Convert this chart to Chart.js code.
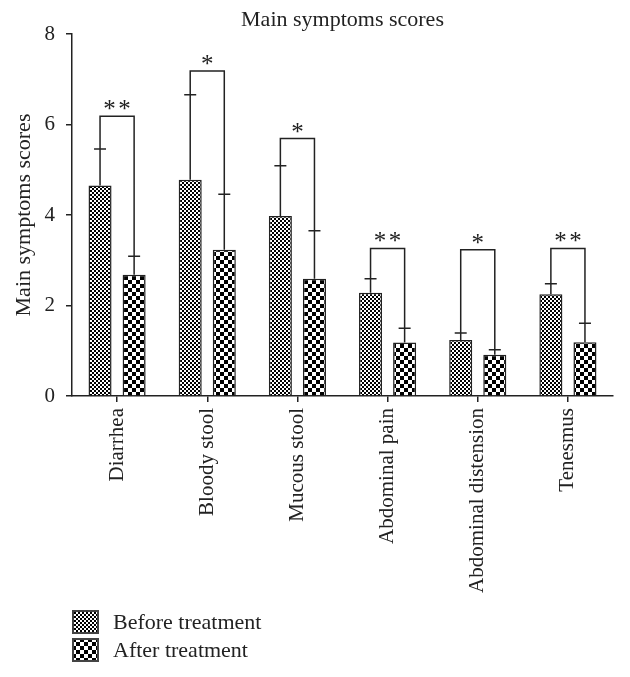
<!DOCTYPE html>
<html>
<head>
<meta charset="utf-8">
<script src="https://cdn.jsdelivr.net/npm/chart.js@4"></script>
<style>
  html, body { margin: 0; padding: 0; background: #fff; }
  #wrap { position: relative; width: 630px; height: 677px; }
  #legend { position: absolute; left: 72px; top: 608px; font: 22px "Liberation Serif", serif; color: #222; }
  .row { display: flex; align-items: center; height: 28px; }
  .row canvas { width: 27px; height: 24px; margin-right: 14px; }
</style>
</head>
<body>
<div id="wrap">
  <canvas id="chart" width="630" height="677"></canvas>
  <div id="legend"></div>
</div>
<script>
// Données (scores moyens, barre d'erreur supérieure, crochets de significativité)
const categories = ["Diarrhea", "Bloody stool", "Mucous stool", "Abdominal pain", "Abdominal distension", "Tenesmus"];
const beforeValues = [4.65, 4.78, 3.98, 2.28, 1.24, 2.25];
const beforeErrTop = [5.46, 6.66, 5.09, 2.59, 1.39, 2.48];
const afterValues = [2.68, 3.23, 2.59, 1.18, 0.91, 1.19];
const afterErrTop = [3.09, 4.46, 3.65, 1.50, 1.02, 1.61];
const bracketTop = [6.18, 7.18, 5.69, 3.26, 3.23, 3.26];
const starCount = [2, 1, 1, 2, 1, 2];
const yTicks = [0, 2, 4, 6, 8];

const INK = "#222";
const SERIF = "'Liberation Serif', serif";
const TITLE = "Main symptoms scores";

function checker(cell) {
  const c = document.createElement("canvas");
  c.width = c.height = cell * 2;
  const g = c.getContext("2d");
  g.fillStyle = "#fff";
  g.fillRect(0, 0, cell * 2, cell * 2);
  g.fillStyle = "#000";
  g.fillRect(0, 0, cell, cell);
  g.fillRect(cell, cell, cell, cell);
  return c;
}

const ctx = document.getElementById("chart").getContext("2d");
const beforePattern = ctx.createPattern(checker(2), "repeat");
const afterPattern = ctx.createPattern(checker(4), "repeat");

// barres d'erreur (seulement vers le haut) + crochets et étoiles, titre centré sur la zone du graphe
const annotations = {
  id: "annotations",
  afterDatasetsDraw(chart) {
    const y = chart.scales.y;
    const mb = chart.getDatasetMeta(0).data;
    const ma = chart.getDatasetMeta(1).data;
    const c = chart.ctx;
    const area = chart.chartArea;
    c.save();
    c.fillStyle = INK;
    c.font = "22px " + SERIF;
    c.textAlign = "center";
    c.textBaseline = "middle";
    c.fillText(TITLE, (area.left + area.right) / 2, 20);

    c.strokeStyle = INK;
    c.lineWidth = 1.5;
    categories.forEach((_, i) => {
      const xb = mb[i].x, xa = ma[i].x;
      const top = y.getPixelForValue(bracketTop[i]);
      c.beginPath();
      c.moveTo(xb, y.getPixelForValue(beforeValues[i]));
      c.lineTo(xb, top);
      c.lineTo(xa, top);
      c.lineTo(xa, y.getPixelForValue(afterValues[i]));
      const eb = y.getPixelForValue(beforeErrTop[i]);
      const ea = y.getPixelForValue(afterErrTop[i]);
      c.moveTo(xb - 6, eb); c.lineTo(xb + 6, eb);
      c.moveTo(xa - 6, ea); c.lineTo(xa + 6, ea);
      c.stroke();
      c.font = "25px " + SERIF;
      c.textBaseline = "alphabetic";
      const mid = (xb + xa) / 2;
      const xs = starCount[i] === 2 ? [mid - 7.5, mid + 7.5] : [mid];
      xs.forEach((sx) => c.fillText("*", sx, top + 1));
    });
    c.restore();
  }
};

new Chart(ctx, {
  type: "bar",
  data: {
    labels: categories,
    datasets: [
      { label: "Before treatment", data: beforeValues, backgroundColor: beforePattern, borderColor: INK, borderWidth: 1.5, borderSkipped: "bottom" },
      { label: "After treatment", data: afterValues, backgroundColor: afterPattern, borderColor: INK, borderWidth: 1.5, borderSkipped: "bottom" },
    ],
  },
  options: {
    responsive: false,
    animation: false,
    categoryPercentage: 0.756,
    barPercentage: 0.676,
    layout: { padding: { left: 0, right: 17, top: 34, bottom: 0 } },
    plugins: {
      legend: { display: false },
      tooltip: { enabled: false },
      title: { display: false },
    },
    scales: {
      x: {
        afterFit: (s) => { s.height = 281; },
        grid: { display: true, offset: false, drawOnChartArea: false, drawTicks: true, tickLength: 6, color: INK, lineWidth: 1.5 },
        border: { display: true, color: INK, width: 1.5 },
        ticks: { autoSkip: false, minRotation: 90, maxRotation: 90, padding: 6, color: INK, font: { family: SERIF, size: 21 } },
      },
      y: {
        min: 0,
        max: 8,
        afterFit: (s) => { s.width = 72; },
        afterBuildTicks: (s) => { s.ticks = yTicks.map((v) => ({ value: v })); },
        grid: { display: true, drawOnChartArea: false, drawTicks: true, tickLength: 6, color: INK, lineWidth: 1.5 },
        border: { display: true, color: INK, width: 1.5 },
        ticks: { padding: 11, color: INK, font: { family: SERIF, size: 21 } },
        title: { display: true, text: TITLE, color: INK, font: { family: SERIF, size: 22 }, padding: { top: 11, bottom: 0 } },
      },
    },
  },
  plugins: [annotations],
});

// légende HTML : texte réel, échantillons remplis du même motif
const legend = document.getElementById("legend");
[["Before treatment", 2], ["After treatment", 4]].forEach(([text, cell]) => {
  const row = document.createElement("div");
  row.className = "row";
  const sw = document.createElement("canvas");
  sw.width = 27; sw.height = 24;
  const g = sw.getContext("2d");
  g.fillStyle = g.createPattern(checker(cell), "repeat");
  g.fillRect(0, 0, 27, 24);
  g.strokeStyle = "#444";
  g.lineWidth = 2;
  g.strokeRect(1, 1, 25, 22);
  row.appendChild(sw);
  const span = document.createElement("span");
  span.textContent = text;
  row.appendChild(span);
  legend.appendChild(row);
});
</script>
</body>
</html>
